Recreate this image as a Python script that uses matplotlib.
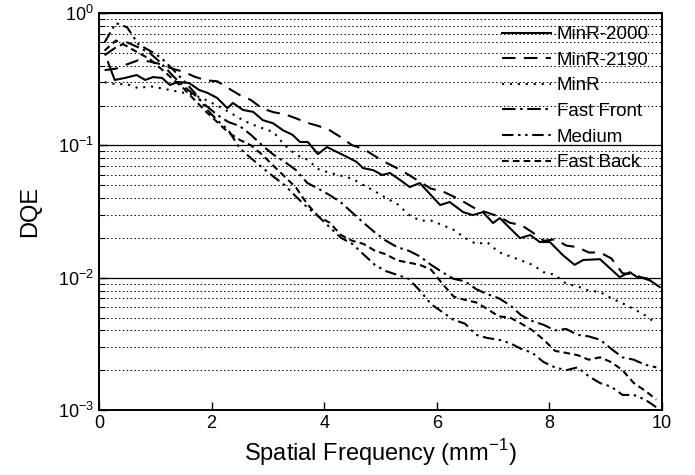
import matplotlib
matplotlib.use("Agg")
import matplotlib.pyplot as plt
from matplotlib.ticker import LogLocator, NullFormatter

plt.rcParams['font.family'] = ['Liberation Sans', 'DejaVu Sans']
plt.rcParams['mathtext.fontset'] = 'custom'
plt.rcParams['mathtext.rm'] = 'Liberation Sans'

# MinR-2000 (solid)
f_2000 = [0.16, 0.28, 0.46, 0.67, 0.82, 0.96, 1.12, 1.26, 1.4, 1.6, 1.78, 1.93, 2.1, 2.28,
          2.38, 2.56, 2.74, 2.91, 3.09, 3.27, 3.44, 3.57, 3.71, 3.89, 4.05, 4.23, 4.41, 4.58,
          4.69, 4.87, 5.03, 5.17, 5.35, 5.52, 5.70, 6.06, 6.23, 6.47, 6.64, 6.82, 7.0, 7.12,
          7.48, 7.66, 7.83, 8.01, 8.24, 8.45, 8.6, 8.9, 9.25, 9.43, 9.56, 9.73, 9.96]
dqe_2000 = [0.426, 0.312, 0.323, 0.340, 0.312, 0.328, 0.323, 0.286, 0.301, 0.296, 0.262, 0.249,
            0.228, 0.191, 0.209, 0.185, 0.179, 0.155, 0.147, 0.130, 0.120, 0.106, 0.106, 0.0859,
            0.0971, 0.0890, 0.0816, 0.0748, 0.0673, 0.0650, 0.0597, 0.0618, 0.0547, 0.0484,
            0.0519, 0.0354, 0.0373, 0.0313, 0.0297, 0.0313, 0.0259, 0.0282, 0.0199, 0.0210,
            0.0186, 0.0186, 0.0148, 0.0125, 0.0136, 0.0138, 0.0101, 0.0110, 0.0101, 0.0099, 0.0085]

# common frequency grid for the other screens
freq = [0.1, 0.3, 0.5, 0.7, 0.9, 1.1, 1.3, 1.5, 1.7, 1.9, 2.1, 2.3, 2.5, 2.7, 2.9, 3.1, 3.3,
        3.5, 3.7, 3.9, 4.1, 4.3, 4.5, 4.7, 4.9, 5.1, 5.3, 5.5, 5.7, 5.9, 6.1, 6.3, 6.5, 6.7,
        6.9, 7.1, 7.3, 7.5, 7.7, 7.9, 8.1, 8.3, 8.5, 8.7, 8.9, 9.1, 9.3, 9.5, 9.7, 9.9]

dqe_2190 = [0.37, 0.38, 0.41, 0.44, 0.43, 0.41, 0.38, 0.36, 0.33, 0.31, 0.305, 0.27, 0.24, 0.22,
            0.19, 0.178, 0.172, 0.16, 0.148, 0.14, 0.13, 0.115, 0.10, 0.094, 0.083, 0.074, 0.067,
            0.060, 0.053, 0.047, 0.045, 0.041, 0.037, 0.033, 0.031, 0.029, 0.026, 0.025, 0.022,
            0.019, 0.0195, 0.0175, 0.017, 0.0155, 0.0155, 0.0140, 0.0108, 0.0106, 0.0098, 0.0092]

dqe_minr = [0.30, 0.29, 0.29, 0.27, 0.28, 0.27, 0.26, 0.25, 0.24, 0.22, 0.20, 0.18, 0.16, 0.145,
            0.135, 0.126, 0.10, 0.085, 0.078, 0.066, 0.062, 0.059, 0.056, 0.050, 0.045, 0.040,
            0.036, 0.030, 0.027, 0.027, 0.025, 0.023, 0.020, 0.018, 0.0185, 0.0156, 0.0145,
            0.0135, 0.0125, 0.011, 0.0105, 0.0090, 0.0086, 0.0080, 0.0078, 0.0070, 0.0064,
            0.0058, 0.0052, 0.0045]

dqe_ffront = [0.48, 0.55, 0.60, 0.55, 0.50, 0.42, 0.34, 0.28, 0.24, 0.20, 0.17, 0.15, 0.14,
              0.12, 0.10, 0.085, 0.075, 0.065, 0.052, 0.047, 0.042, 0.037, 0.031, 0.026, 0.022,
              0.019, 0.017, 0.016, 0.0145, 0.0125, 0.011, 0.0098, 0.0094, 0.0082, 0.0075,
              0.0070, 0.0062, 0.0052, 0.0047, 0.0044, 0.0040, 0.0041, 0.0037, 0.0036, 0.0034,
              0.0029, 0.0025, 0.0024, 0.0022, 0.0021]

dqe_medium = [0.60, 0.84, 0.78, 0.58, 0.52, 0.46, 0.38, 0.31, 0.25, 0.19, 0.155, 0.13, 0.095,
              0.08, 0.068, 0.058, 0.050, 0.041, 0.034, 0.029, 0.024, 0.020, 0.018, 0.015,
              0.0125, 0.0112, 0.0105, 0.0098, 0.0080, 0.0063, 0.0055, 0.0048, 0.0045, 0.0037,
              0.0035, 0.0034, 0.0032, 0.0029, 0.0027, 0.0023, 0.0021, 0.0020, 0.0021, 0.0018,
              0.0016, 0.0015, 0.0013, 0.0013, 0.0012, 0.00105]

dqe_fback = [0.52, 0.62, 0.56, 0.50, 0.45, 0.38, 0.32, 0.27, 0.22, 0.18, 0.15, 0.125, 0.11,
             0.10, 0.085, 0.07, 0.058, 0.048, 0.036, 0.029, 0.026, 0.021, 0.019, 0.018, 0.016,
             0.015, 0.0135, 0.013, 0.0125, 0.0115, 0.009, 0.0072, 0.0068, 0.0065, 0.0058,
             0.0051, 0.0050, 0.0045, 0.0040, 0.0034, 0.0028, 0.0027, 0.0026, 0.0024, 0.0025,
             0.0023, 0.0020, 0.0016, 0.0014, 0.0012]

fig = plt.figure(figsize=(6.95, 4.75), dpi=100)
ax = fig.add_axes([0.1424, 0.1368, 0.81, 0.8358])

lw = 1.5
ax.plot(f_2000, dqe_2000, color='black', lw=lw, label='MinR-2000')
ax.plot(freq, dqe_2190, color='black', lw=lw, linestyle=(0, (6.5, 4)), label='MinR-2190')
ax.plot(freq, dqe_minr, color='black', lw=lw, linestyle=(0, (1, 2.8)), label='MinR')
ax.plot(freq, dqe_ffront, color='black', lw=lw, linestyle=(0, (6.5, 2.2, 1.2, 2.2)), label='Fast Front')
ax.plot(freq, dqe_medium, color='black', lw=lw, linestyle=(0, (5.5, 2.2, 1.2, 2.2, 1.2, 2.2)), label='Medium')
ax.plot(freq, dqe_fback, color='black', lw=lw, linestyle=(0, (3.2, 2)), label='Fast Back')

ax.set_yscale('log')
ax.set_xlim(0, 10)
ax.set_ylim(1e-3, 1)
ax.set_xticks([0, 2, 4, 6, 8, 10])
ax.yaxis.set_major_locator(LogLocator(base=10, numticks=10))
ax.yaxis.set_minor_locator(LogLocator(base=10, subs=range(2, 10), numticks=10))
ax.yaxis.set_minor_formatter(NullFormatter())

ax.grid(True, which='major', axis='y', color='black', lw=0.9, linestyle='-')
ax.grid(True, which='minor', axis='y', color='black', lw=0.7, linestyle=(0, (1.5, 2.5)))
ax.grid(False, axis='x')

ax.tick_params(which='both', direction='in', labelsize=13, top=False, right=False)
ax.tick_params(which='major', length=6, width=1)
ax.tick_params(which='minor', length=4, width=0.8)
for s in ax.spines.values():
    s.set_linewidth(1.4)

ax.set_xlabel('Spatial Frequency (mm$^{-1}$)', fontsize=17, labelpad=4)
ax.set_ylabel('DQE', fontsize=17, labelpad=12)

ax.legend(loc='upper right', frameon=False, fontsize=13.5, handlelength=2.6,
          labelspacing=0.45, handletextpad=0.3, borderaxespad=0.3)

fig.savefig('out.png', dpi=100)
